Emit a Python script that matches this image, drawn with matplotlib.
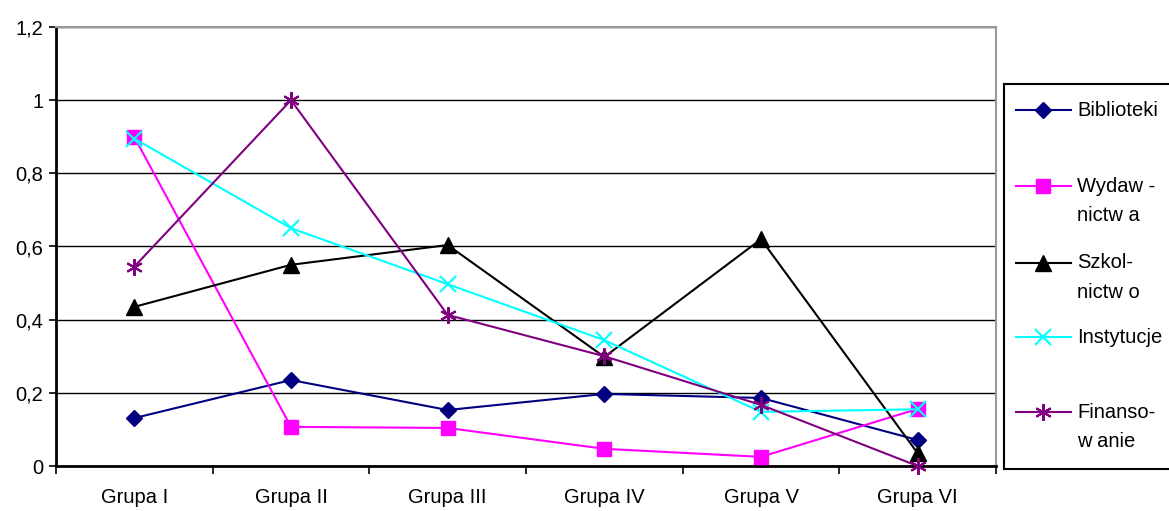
import matplotlib.pyplot as plt
import numpy as np
from matplotlib.lines import Line2D
from matplotlib.ticker import FixedLocator

plt.rcParams['font.family'] = ['Liberation Sans', 'DejaVu Sans']

groups = ["Grupa I", "Grupa II", "Grupa III", "Grupa IV", "Grupa V", "Grupa VI"]
biblioteki = [0.131, 0.235, 0.153, 0.197, 0.186, 0.071]
wydawnictwa = [0.899, 0.107, 0.104, 0.047, 0.025, 0.156]
szkolnictwo = [0.435, 0.55, 0.604, 0.298, 0.62, 0.035]
instytucje = [0.895, 0.65, 0.497, 0.344, 0.148, 0.155]
finansowanie = [0.545, 1.0, 0.413, 0.30, 0.167, 0.0]
y_ticks = [0, 0.2, 0.4, 0.6, 0.8, 1.0, 1.2]
y_labels = ["0", "0,2", "0,4", "0,6", "0,8", "1", "1,2"]

series = [
    (["Biblioteki"], biblioteki, "#000080", "D", 8),
    (["Wydaw -", "nictw a"], wydawnictwa, "#FF00FF", "s", 9.5),
    (["Szkol-", "nictw o"], szkolnictwo, "#000000", "^", 11),
    (["Instytucje"], instytucje, "#00FFFF", "x", 11),
    (["Finanso-", "w anie"], finansowanie, "#800080", (6, 2, 0), 12),
]
FS = 14.5

fig = plt.figure(figsize=(11.69, 5.11), dpi=100)
ax = fig.add_axes([56/1169, 45/511, 940/1169, 439/511])

x = np.arange(len(groups))
for name, vals, col, mk, ms in series:
    mew = 1.5 if mk in ("x", (6, 2, 0)) else 1
    ax.plot(x, vals, color=col, marker=mk, markersize=ms, linewidth=1.5,
            markeredgewidth=mew, clip_on=False, zorder=3)

ax.set_xlim(-0.5, len(groups) - 0.5)
ax.set_ylim(0, 1.2)
ax.set_yticks(y_ticks)
ax.set_yticklabels(y_labels, fontsize=FS)
ax.set_xticks(x)
ax.set_xticklabels(groups, fontsize=FS)
ax.xaxis.set_minor_locator(FixedLocator(np.arange(-0.5, len(groups), 1.0)))
ax.tick_params(axis='x', which='major', length=0, pad=16)
ax.tick_params(axis='x', which='minor', length=6, width=1.2, direction='out')
ax.tick_params(axis='y', length=5, width=1.2, direction='out', pad=4)
ax.grid(axis='y', color='black', linewidth=1, zorder=0)
ax.set_axisbelow(True)
for s in ("left", "bottom"):
    ax.spines[s].set_linewidth(2)
    ax.spines[s].set_color("black")
for s in ("top", "right"):
    ax.spines[s].set_linewidth(1.5)
    ax.spines[s].set_color("#999999")

# legend box drawn by hand (right side runs off the picture as in the original)
lax = fig.add_axes([1004/1169, (511-469)/511, 185/1169, 385/511])
lax.set_xlim(0, 185)
lax.set_ylim(385, 0)
lax.set_xticks([])
lax.set_yticks([])
for s in lax.spines.values():
    s.set_linewidth(1.5)
    s.set_color("black")
entry_y = [26, 102, 179, 253, 328]
for (lines, vals, col, mk, ms), ey in zip(series, entry_y):
    mew = 1.5 if mk in ("x", (6, 2, 0)) else 1
    lax.add_line(Line2D([12, 67], [ey, ey], color=col, linewidth=1.5))
    lax.plot([39], [ey], color=col, marker=mk, markersize=ms, markeredgewidth=mew)
    for k, line in enumerate(lines):
        lax.text(73, ey + 29 * k, line, fontsize=FS, va='center', ha='left')

fig.savefig("out.png", dpi=100)
